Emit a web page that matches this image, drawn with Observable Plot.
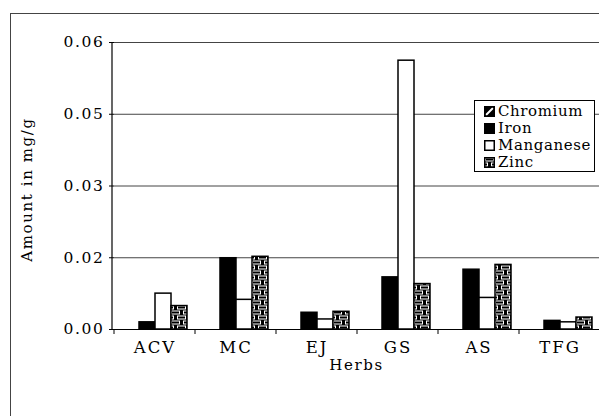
<!DOCTYPE html>
<html>
<head>
<meta charset="utf-8">
<script src="https://cdn.jsdelivr.net/npm/d3@7"></script>
<script src="https://cdn.jsdelivr.net/npm/@observablehq/plot@0.6"></script>
<style>
  html, body { margin: 0; padding: 0; background: #fff; overflow: hidden; }
  #wrap { position: relative; width: 599px; height: 416px; overflow: hidden; font-family: "DejaVu Serif", serif; }
  #chart svg text { letter-spacing: 1.6px; }
  #border { position: absolute; left: 10px; top: 13px; width: 700px; height: 500px; border: 1.5px solid #444; box-sizing: border-box; pointer-events: none; }
  #legend { position: absolute; left: 474px; top: 100px; width: 121px; height: 72px; border: 1px solid #000; background: #fff; box-sizing: border-box; padding: 2px 0 0 9px; font-size: 15px; line-height: 17px; color: #000; letter-spacing: 0.6px; }
  #legend .row { display: flex; align-items: center; white-space: nowrap; }
  #legend svg { margin-right: 3px; flex: none; }
</style>
</head>
<body>
<svg width="0" height="0" style="position:absolute">
  <defs>
    <pattern id="brick" patternUnits="userSpaceOnUse" width="12" height="10">
      <rect width="12" height="10" fill="#000"></rect>
      <rect x="1.5" y="1" width="8" height="3" fill="none" stroke="#fff" stroke-width="1"></rect>
      <rect x="-4.5" y="6" width="8" height="3" fill="none" stroke="#fff" stroke-width="1"></rect>
      <rect x="7.5" y="6" width="8" height="3" fill="none" stroke="#fff" stroke-width="1"></rect>
    </pattern>
    <pattern id="chrom" patternUnits="userSpaceOnUse" width="10" height="10">
      <rect width="10" height="10" fill="#000"></rect>
      <path d="M2,9 L9,2" stroke="#fff" stroke-width="2"></path>
    </pattern>
  </defs>
</svg>
<div id="wrap">
  <div id="chart"></div>
  <div id="border"></div>
  <div id="legend"></div>
</div>
<script>
const herbs = ["ACV", "MC", "EJ", "GS", "AS", "TFG"];
const series = ["Chromium", "Iron", "Manganese", "Zinc"];
const chromium = [0, 0, 0, 0, 0, 0];
const iron = [0.0015, 0.0149, 0.0035, 0.0109, 0.0125, 0.0018];
const manganese = [0.0075, 0.0062, 0.0021, 0.0562, 0.0066, 0.0015];
const zinc = [0.0049, 0.0152, 0.0037, 0.0095, 0.0135, 0.0025];
const yTicks = [0, 0.015, 0.03, 0.045, 0.06];
const yTickLabels = ["0.00", "0.02", "0.03", "0.05", "0.06"];
const seriesFills = ["url(#chrom)", "#000", "#fff", "url(#brick)"];
const xTitle = "Herbs";
const yTitle = "Amount in mg/g";

const valuesBySeries = [chromium, iron, manganese, zinc];
const data = [];
herbs.forEach((h, i) => series.forEach((s, j) => data.push({herb: h, series: s, value: valuesBySeries[j][i]})));

const plot = Plot.plot({
  width: 599,
  height: 416,
  marginLeft: 112,
  marginRight: -2,
  marginTop: 42,
  marginBottom: 87,
  style: {fontFamily: "DejaVu Serif, serif", fontSize: "15.5px", color: "#000", background: "transparent", overflow: "visible"},
  fx: {domain: herbs, padding: 0, label: null, tickSize: 0, tickPadding: 12},
  x: {domain: series, paddingInner: 0, paddingOuter: 0.5, axis: null},
  y: {domain: [0, 0.06], ticks: yTicks, tickFormat: d => yTickLabels[yTicks.indexOf(d)], tickSize: 5, tickPadding: 5, label: null},
  color: {type: "ordinal", domain: series, range: seriesFills},
  marks: [
    Plot.ruleY(yTicks, {stroke: "#444", strokeWidth: 1}),
    Plot.barY(data, {fx: "herb", x: "series", y: "value", fill: "series", stroke: "#000", strokeWidth: 1.5}),
    Plot.ruleY([0], {stroke: "#000", strokeWidth: 1.2})
  ]
});
document.getElementById("chart").appendChild(plot);

// axis line, category boundary ticks and axis titles from the library's scales
const fx = plot.scale("fx"), y = plot.scale("y");
const svg = d3.select(plot);
svg.selectAll("text").filter(function() { return herbs.includes(this.textContent); }).style("font-size", "16.5px").style("letter-spacing", "2px");
const x0 = fx.range[0], x1 = fx.range[1];
const yb = y.apply(0), yt = y.apply(0.06);
svg.append("line").attr("x1", x0).attr("x2", x0).attr("y1", yb).attr("y2", yt).attr("stroke", "#000").attr("stroke-width", 1.2);
const bounds = herbs.map(h => fx.apply(h)).concat([fx.apply(herbs[herbs.length - 1]) + fx.bandwidth]);
bounds.forEach(b => svg.append("line").attr("x1", b).attr("x2", b).attr("y1", yb).attr("y2", yb + 5).attr("stroke", "#000"));
svg.append("text").attr("x", (x0 + x1) / 2).attr("y", yb + 36).attr("dy", "0.35em").attr("text-anchor", "middle")
  .attr("fill", "#000").style("font-size", "15px").text(xTitle);
svg.append("text").attr("transform", `translate(${x0 - 85},${(yb + yt) / 2 + 4}) rotate(-90)`).attr("dy", "0.35em").attr("text-anchor", "middle")
  .attr("fill", "#000").style("font-size", "15px").text(yTitle);

// legend
const legend = d3.select("#legend");
series.forEach((s, j) => {
  const row = legend.append("div").attr("class", "row");
  const sw = row.append("svg").attr("width", 11).attr("height", 11);
  sw.append("rect").attr("x", 0.75).attr("y", 0.75).attr("width", 9.5).attr("height", 9.5).attr("fill", seriesFills[j]).attr("stroke", "#000").attr("stroke-width", 1.5);
  row.append("span").text(s);
});
</script>
</body>
</html>
